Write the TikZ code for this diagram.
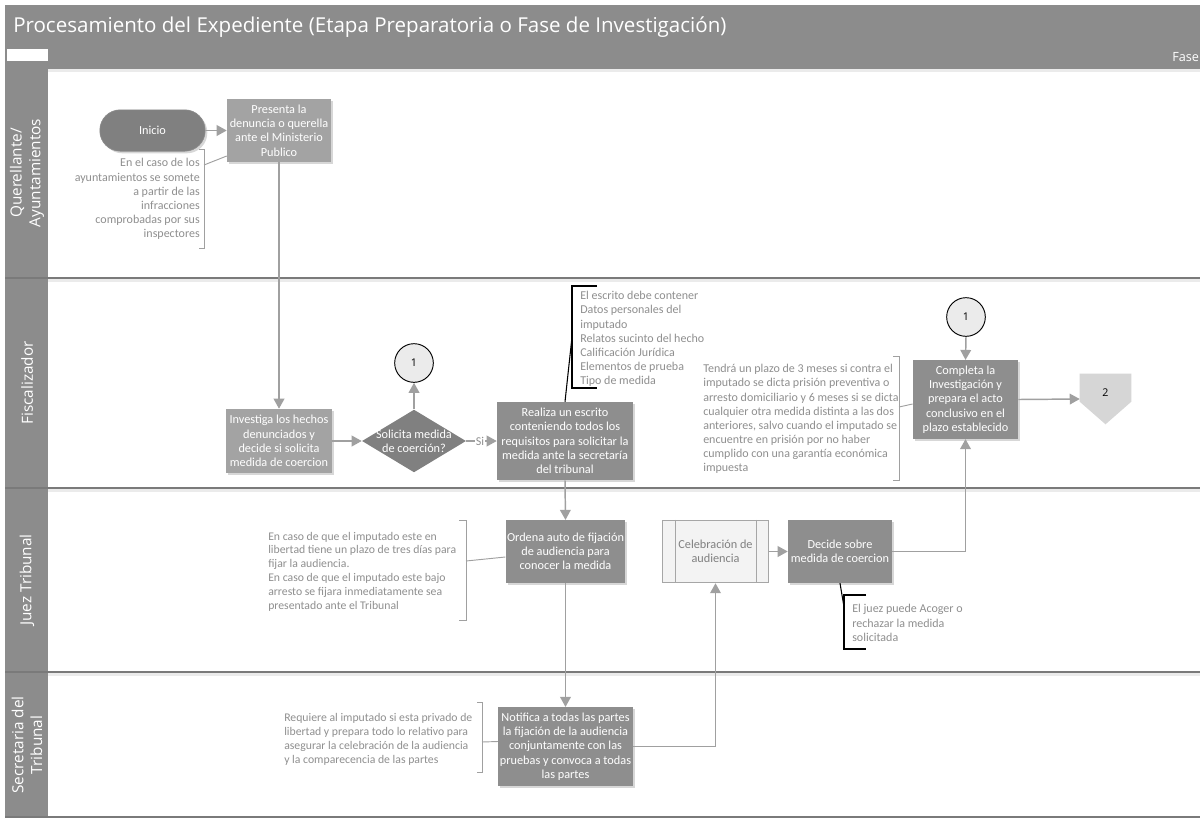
\documentclass[tikz,border=0pt]{standalone}
\usepackage{fontspec}
\setmainfont{Carlito}
\newfontfamily\headfont{Open Sans}
\usetikzlibrary{shapes.geometric,arrows.meta,calc,shadows}

\definecolor{band}{HTML}{8C8C8C}
\definecolor{laneline}{HTML}{7A7A7A}
\definecolor{boxdark}{HTML}{8E8E8E}
\definecolor{boxlight}{HTML}{A3A3A3}
\definecolor{termfill}{HTML}{808080}
\definecolor{annot}{HTML}{8F8F8F}
\definecolor{flowc}{HTML}{A0A0A0}
\definecolor{conn}{HTML}{EBEBEB}
\definecolor{offc}{HTML}{D6D6D6}
\definecolor{subfill}{HTML}{F3F3F3}
\definecolor{subline}{HTML}{A6A6A6}

\tikzset{
  boxfont/.style={font=\fontsize{9.2}{10.7}\selectfont},
  notefont/.style={font=\fontsize{9}{10.6}\selectfont},
  shadowed/.style={drop shadow={shadow xshift=1.6pt,shadow yshift=-1.6pt,fill=black!22,opacity=0.7}},
  proc/.style={boxfont, fill=boxdark, text=white, align=center, inner sep=1pt, shadowed},
  term/.style={boxfont, fill=termfill, draw=black!45, line width=0.5pt, text=white,
    rounded corners=15.3pt, minimum width=79pt, minimum height=31pt, shadowed},
  decision/.style={diamond, fill=termfill, inner sep=0pt, minimum width=78pt, minimum height=47pt},
  onpage/.style={circle, fill=conn, draw=black, line width=0.7pt, minimum size=29pt, inner sep=0pt,
    font=\headfont\fontsize{8}{9}\selectfont},
  note/.style={notefont, text=annot, inner sep=0pt},
  flow/.style={draw=flowc, line width=1.1pt, -{Triangle[length=7.5pt,width=8pt]}},
  bracketg/.style={draw=annot!85, line width=0.7pt},
  bracketk/.style={draw=black, line width=0.8pt},
  lanelabel/.style={rotate=90, text=white, align=center, font=\headfont\fontsize{11.5}{14}\selectfont},
}

\begin{document}
\begin{tikzpicture}[x=0.75pt,y=-0.75pt]
\clip (0,0) rectangle (1200,818);
\fill[white] (0,0) rectangle (1200,818);

% header bands
\fill[band] (5,5) rectangle (1200,68);
\draw[black!45, line width=0.6pt] (5,47) -- (1200,47);
\fill[white] (7,48.5) rectangle (48,60.5);
\draw[black!45, line width=0.6pt] (5,68) -- (1200,68);
\node[anchor=west, text=white, inner sep=0pt, font=\headfont\fontsize{15.4}{18}\selectfont] (title) at (13,27)
  {Procesamiento del Expediente (Etapa Preparatoria o Fase de Investigación)};
\node[anchor=west, text=white, inner sep=0pt, font=\headfont\fontsize{9.5}{11}\selectfont] (fase) at (1172,57.5) {Fase};

% swimlanes
\fill[band] (5,68) rectangle (48,818);
\foreach \yy in {68,278,488,672} {
  \fill[black!8] (48,\yy+1) rectangle (1200,\yy+4);
}
\foreach \yy in {278,488,672,817} {
  \draw[laneline, line width=1.1pt] (5,\yy) -- (1200,\yy);
}
\node[lanelabel] (lq) at (27,173) {Querellante/\\Ayuntamientos};
\node[lanelabel] (lf) at (27,383) {Fiscalizador};
\node[lanelabel] (lj) at (27,580) {Juez Tribunal};
\node[lanelabel] (ls) at (27,745) {Secretaria del\\Tribunal};

% Querellante / Ayuntamientos
\node[term] (inicio) at (152.5,130.5) {Inicio};
\node[proc, fill=boxlight, minimum width=78pt, minimum height=47pt] (pres) at (279,130.5)
  {Presenta la\\denuncia o querella\\ante el Ministerio\\Publico};
\node[note, align=right, anchor=east] (n1) at (200,199)
  {En el caso de los\\ayuntamientos se somete\\a partir de las\\infracciones\\comprobadas por sus\\inspectores};
\draw[bracketg] (199,149) -- (204,149) -- (204,248) -- (199,248);
\coordinate (b1) at (204,165);
\draw[bracketg] (b1) -- ($(pres.west)+(0,25.5)$);

% Fiscalizador
\node[proc, fill=boxlight, minimum width=79pt, minimum height=48pt] (inv) at (279,441)
  {Investiga los hechos\\denunciados y\\decide si solicita\\medida de coercion};
\node[decision] (dia) at (414,441) {};
\node[boxfont, text=white, align=center] (diat) at (dia) {Solicita medida\\de coerción?};
\node[onpage] (c1a) at (414,363) {1};
\node[proc, minimum width=102pt, minimum height=58.5pt] (real) at (565,441)
  {Realiza un escrito\\conteniendo todos los\\requisitos para solicitar la\\medida ante la secretaría\\del tribunal};
\node[note, align=left, anchor=west] (n2) at (580,339)
  {El escrito debe contener\\Datos personales del\\imputado\\Relatos sucinto del hecho\\Calificación Jurídica\\Elementos de prueba\\Tipo de medida};
\draw[bracketk] (597,286) -- (572,286) -- (572,388) -- (597,388);
\coordinate (b2) at (572,337);
\draw[bracketk] (b2) -- (real.north);

\node[onpage] (c1b) at (966,317) {1};
\node[proc, minimum width=79pt, minimum height=59pt] (comp) at (965.5,399.5)
  {Completa la\\Investigación y\\prepara el acto\\conclusivo en el\\plazo establecido};
\node[note, align=left, anchor=west] (n3) at (703,419)
  {Tendrá un plazo de 3 meses si contra el\\imputado se dicta prisión preventiva o\\arresto domiciliario y 6 meses si se dicta\\cualquier otra medida distinta a las dos\\anteriores, salvo cuando el imputado se\\encuentre en prisión por no haber\\cumplido con una garantía económica\\impuesta};
\draw[bracketg] (893,356) -- (899,356) -- (899,480) -- (893,480);
\coordinate (b3) at (899,407);
\draw[bracketg] (b3) -- ($(comp.west)+(0,4.5)$);

\node[minimum width=38.25pt, minimum height=37.5pt, inner sep=0pt] (off2) at (1105.5,399) {};
\fill[offc] (off2.north west) -- (off2.north east) -- ($(off2.north east)+(0,28)$)
  -- (off2.south) -- ($(off2.north west)+(0,28)$) -- cycle;
\node[font=\headfont\fontsize{8}{9}\selectfont] (t2) at (1105.5,393) {2};

% Juez Tribunal
\node[proc, minimum width=89pt, minimum height=47pt] (ord) at (565.5,551.5)
  {Ordena auto de fijación\\de audiencia para\\conocer la medida};
\node[note, align=left, anchor=west, font=\fontsize{8.8}{10.35}\selectfont] (n4) at (268,571.5)
  {En caso de que el imputado este en\\libertad tiene un plazo de tres días para\\fijar la audiencia.\\En caso de que el imputado este bajo\\arresto se fijara inmediatamente sea\\presentado ante el Tribunal};
\draw[bracketg] (459,520) -- (466,520) -- (466,620) -- (459,620);
\coordinate (b4) at (466,561);
\draw[bracketg] (b4) -- ($(ord.west)+(0,5.5)$);

\node[boxfont, draw=subline, line width=0.6pt, fill=subfill, text=black!50, align=center,
  minimum width=79pt, minimum height=47pt, inner sep=1pt] (cel) at (715.5,551.5)
  {Celebración de\\audiencia};
\draw[subline, line width=0.6pt] ($(cel.north west)+(13,0)$) -- ($(cel.south west)+(13,0)$);
\draw[subline, line width=0.6pt] ($(cel.north east)+(-12,0)$) -- ($(cel.south east)+(-12,0)$);

\node[proc, minimum width=78pt, minimum height=47pt] (dec) at (840,551.5)
  {Decide sobre\\medida de coercion};
\node[note, align=left, anchor=west] (n6) at (852,623)
  {El juez puede Acoger o\\rechazar la medida\\solicitada};
\draw[bracketk] (866,595) -- (844,595) -- (844,649) -- (866,649);
\coordinate (b6) at (844,607);
\draw[bracketk] (b6) -- (dec.south);

% Secretaria del Tribunal
\node[proc, minimum width=101pt, minimum height=59pt] (notif) at (565.5,746.5)
  {Notifica a todas las partes\\la fijación de la audiencia\\conjuntamente con las\\pruebas y convoca a todas\\las partes};
\node[note, align=left, anchor=west, font=\fontsize{8.8}{10.5}\selectfont] (n5) at (284,739)
  {Requiere al imputado si esta privado de\\libertad y prepara todo lo relativo para\\asegurar la celebración de la audiencia\\y la comparecencia de las partes};
\draw[bracketg] (477,702) -- (482,702) -- (482,772) -- (477,772);
\coordinate (b5) at (482,742);
\draw[bracketg] (b5) -- ($(notif.west)+(0,-5)$);

% flow connectors
\draw[flow] (inicio) -- (pres);
\draw[flow] (pres.south) -- (inv.north);
\draw[flow] (inv) -- (dia);
\draw[flow] (dia.north) -- (c1a.south);
\draw[flow] (dia.east) -- node[pos=0.45, fill=white, text=annot, inner sep=1pt, notefont] (si) {Si} (real.west);
\draw[flow] (real.south) -- (ord.north);
\draw[flow] (c1b.south) -- (comp.north);
\draw[flow] (comp.east) -- (off2.west);
\draw[flow] (ord.south) -- (notif.north);
\draw[flow] (notif.east) -| (cel.south);
\draw[flow] (cel) -- (dec);
\draw[flow] (dec.east) -| (comp.south);
\end{tikzpicture}
\end{document}
